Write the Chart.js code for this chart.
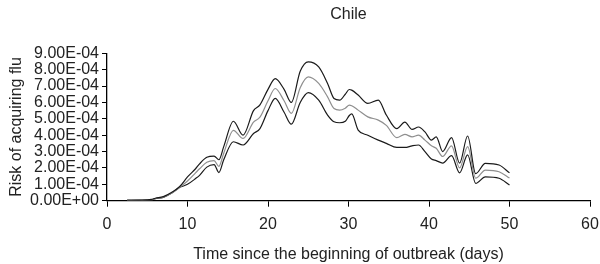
<!DOCTYPE html>
<html>
<head>
<meta charset="utf-8">
<script src="https://cdn.jsdelivr.net/npm/chart.js@4.4.0/dist/chart.umd.min.js"></script>
<style>
  html, body { margin: 0; padding: 0; background: #fff; }
  #wrap { width: 600px; height: 264px; }
</style>
</head>
<body>
<div id="wrap"><canvas id="grafico"></canvas></div>
<script>
// --- DADOS (risco em unidades de 1E-04) ---
const dias = [2.5, 4, 5.5, 6, 7, 8, 9, 10, 11, 11.5, 12.4, 13.3, 13.9, 14.5, 15.7, 16.9, 18.2, 19, 20, 20.9, 22, 22.9, 24, 25, 26.3, 27.4, 28.2, 28.9, 29.6, 30.1, 30.4, 31.2, 32.4, 33.7, 34.7, 36, 37, 37.9, 38.7, 39.5, 40.3, 40.9, 41.7, 42.8, 43.8, 44.8, 45.8, 47, 48.7, 50];
const limiteSuperior = [0.03, 0.04, 0.08, 0.15, 0.25, 0.5, 0.85, 1.45, 1.95, 2.25, 2.65, 2.72, 2.5, 3.3, 4.85, 4.0, 5.5, 5.85, 6.8, 7.45, 6.8, 6.0, 7.9, 8.48, 8.17, 7.16, 6.24, 6.14, 6.5, 6.79, 6.75, 6.45, 5.94, 6.14, 5.23, 4.4, 4.8, 4.35, 4.5, 4.2, 3.7, 3.9, 3.0, 3.85, 2.3, 3.95, 1.65, 2.28, 2.18, 1.7];
const media = [0.02, 0.03, 0.06, 0.13, 0.22, 0.45, 0.8, 1.2, 1.7, 1.95, 2.35, 2.45, 2.1, 2.9, 4.3, 3.8, 4.8, 5.1, 6.1, 6.85, 6.1, 5.33, 6.9, 7.56, 7.16, 6.34, 5.63, 5.53, 5.65, 5.84, 5.8, 5.53, 5.12, 4.92, 4.6, 3.85, 4.05, 3.9, 4.0, 3.7, 3.35, 3.2, 2.7, 3.35, 2.0, 3.3, 1.37, 1.87, 1.77, 1.38];
const limiteInferior = [0.01, 0.02, 0.05, 0.12, 0.2, 0.45, 0.8, 1.0, 1.35, 1.55, 2.05, 2.2, 1.72, 2.5, 3.6, 3.4, 4.1, 4.4, 5.5, 6.25, 5.4, 4.67, 6.0, 6.6, 6.14, 5.23, 4.82, 4.76, 4.85, 5.2, 5.3, 4.31, 4.0, 3.7, 3.5, 3.25, 3.25, 3.35, 3.4, 3.0, 2.55, 2.45, 2.3, 2.75, 1.7, 2.8, 1.06, 1.46, 1.37, 0.96];
const ticksX = [0, 10, 20, 30, 40, 50, 60];
const ticksY = [0, 1, 2, 3, 4, 5, 6, 7, 8, 9]; // x 1E-04

// --- AUXILIARES ---
const paraPontos = (serie) => serie.map((v, i) => ({ x: dias[i], y: v * 1e-4 }));
const formatarCientifico = (valor) => {
    const [mant, exp] = Number(valor).toExponential(2).split('e');
    const n = parseInt(exp, 10);
    const sinal = n < 0 ? '-' : '+';
    return mant + 'E' + sinal + String(Math.abs(n)).padStart(2, '0');
};

const fonte = { family: 'Liberation Sans, Arial, sans-serif', size: 16 };
const estiloLinha = (cor) => ({
    borderColor: cor, borderWidth: 1.2, pointRadius: 0, fill: false,
    tension: 0.4, cubicInterpolationMode: 'monotone'
});

// centraliza o título sobre a área do gráfico (como na figura original)
const tituloNaArea = {
    id: 'tituloNaArea',
    afterLayout(chart) {
        if (chart.titleBlock) {
            chart.titleBlock.left = chart.chartArea.left;
            chart.titleBlock.right = chart.chartArea.right;
        }
    }
};

new Chart(document.getElementById('grafico'), {
    type: 'line',
    data: {
        datasets: [
            { label: 'Superior', data: paraPontos(limiteSuperior), ...estiloLinha('#1a1a1a') },
            { label: 'Média', data: paraPontos(media), ...estiloLinha('#8f8f8f') },
            { label: 'Inferior', data: paraPontos(limiteInferior), ...estiloLinha('#1a1a1a') }
        ]
    },
    plugins: [tituloNaArea],
    options: {
        responsive: true, maintainAspectRatio: false, animation: false,
        layout: { padding: 0 },
        plugins: {
            legend: { display: false },
            tooltip: { enabled: false },
            title: {
                display: true, text: 'Chile', color: '#222',
                font: { ...fonte, weight: 'normal' },
                padding: { top: 4.5, bottom: 29.6 }
            }
        },
        scales: {
            x: {
                type: 'linear', min: 0, max: 60,
                afterBuildTicks: (scale) => { scale.ticks = ticksX.map(v => ({ value: v })); },
                afterFit: (scale) => { scale.height = 63.3; scale.paddingRight = 10; scale.paddingLeft = 0; },
                ticks: { color: '#222', font: fonte, padding: 8, maxRotation: 0, autoSkip: false },
                grid: { drawOnChartArea: false, drawTicks: true, tickLength: 6, color: '#000', lineWidth: 1 },
                border: { display: true, color: '#000', width: 1.3 },
                title: { display: true, text: 'Time since the beginning of outbreak (days)', color: '#222', font: fonte, padding: { top: 0, bottom: 0 } }
            },
            y: {
                min: 0, max: 9e-4,
                afterBuildTicks: (scale) => { scale.ticks = ticksY.map(v => ({ value: v * 1e-4 })); },
                ticks: { color: '#222', font: fonte, padding: 3, autoSkip: false, callback: (v) => formatarCientifico(v) },
                afterFit: (scale) => { scale.width = 107; },
                grid: { drawOnChartArea: false, drawTicks: true, tickLength: 5, color: '#000', lineWidth: 1 },
                border: { display: true, color: '#000', width: 1.3 },
                title: { display: true, text: 'Risk of acquiring flu', color: '#222', font: fonte, padding: { top: 7, bottom: 0 } }
            }
        }
    }
});
</script>
</body>
</html>
